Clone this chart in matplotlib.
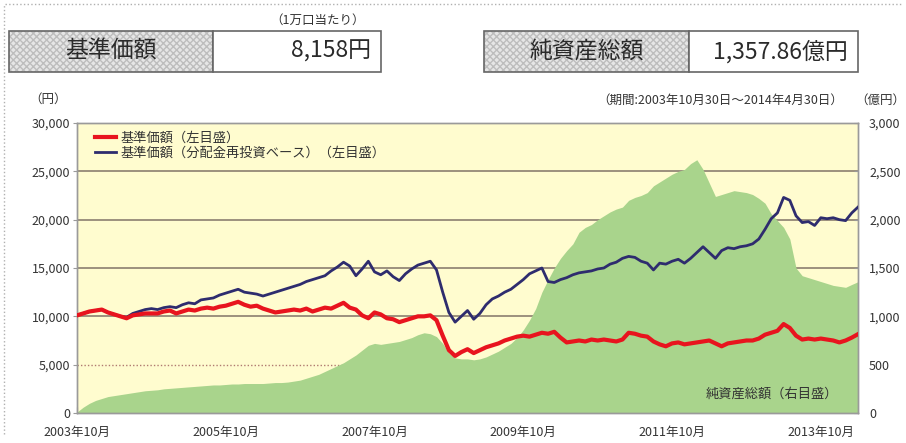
import numpy as np
import matplotlib
matplotlib.use('Agg')
import matplotlib.pyplot as plt
from matplotlib.patches import Rectangle
from matplotlib.lines import Line2D

plt.rcParams['font.family'] = ['Noto Sans CJK JP', 'DejaVu Sans']

# Monthly values from 2003年10月 to 2014年4月
# 基準価額 (円)
nav = [10100, 10300, 10500, 10600, 10700, 10400, 10200, 10000, 9800, 10100,
       10200, 10300, 10300, 10300, 10500, 10600, 10300, 10500, 10700, 10600,
       10800, 10900, 10800, 11000, 11100, 11300, 11500, 11200, 11000, 11100,
       10800, 10600, 10400, 10500, 10600, 10700, 10600, 10800, 10500, 10700,
       10900, 10800, 11100, 11400, 10900, 10700, 10100, 9800, 10400, 10200,
       9800, 9700, 9400, 9600, 9800, 10000, 10000, 10100, 9600, 8000,
       6500, 5900, 6300, 6600, 6200, 6500, 6800, 7000, 7200, 7500,
       7700, 7900, 8000, 7900, 8100, 8300, 8200, 8400, 7800, 7300,
       7400, 7500, 7400, 7600, 7500, 7600, 7500, 7400, 7600, 8300,
       8200, 8000, 7900, 7400, 7100, 6900, 7200, 7300, 7100, 7200,
       7300, 7400, 7500, 7200, 6900, 7200, 7300, 7400, 7500, 7500,
       7700, 8100, 8300, 8500, 9200, 8800, 8000, 7600, 7700, 7600,
       7700, 7600, 7500, 7300, 7500, 7800, 8158]

# 基準価額（分配金再投資ベース） (円)
nav_reinvested = [10100, 10300, 10500, 10600, 10700, 10400, 10200, 10000, 9900, 10300,
                  10500, 10700, 10800, 10700, 10900, 11000, 10900, 11200, 11400, 11300,
                  11700, 11800, 11900, 12200, 12400, 12600, 12800, 12500, 12400, 12300,
                  12100, 12300, 12500, 12700, 12900, 13100, 13300, 13600, 13800, 14000,
                  14200, 14700, 15100, 15600, 15200, 14200, 14900, 15700, 14600, 14300,
                  14700, 14100, 13700, 14400, 14900, 15300, 15500, 15700, 14800, 12500,
                  10400, 9400, 10000, 10600, 9700, 10300, 11200, 11800, 12100, 12500,
                  12800, 13300, 13800, 14400, 14700, 15000, 13600, 13500, 13800, 14000,
                  14300, 14500, 14600, 14700, 14900, 15000, 15400, 15600, 16000, 16200,
                  16100, 15700, 15500, 14800, 15500, 15400, 15700, 15900, 15500, 16000,
                  16600, 17200, 16600, 16000, 16800, 17100, 17000, 17200, 17300, 17500,
                  18000, 19000, 20100, 20700, 22300, 22000, 20400, 19700, 19800, 19400,
                  20200, 20100, 20200, 20000, 19900, 20700, 21300]

# 純資産総額 (億円)
net_assets = [10, 60, 100, 130, 150, 170, 180, 190, 200, 210,
              220, 230, 235, 240, 250, 255, 260, 265, 270, 275,
              280, 285, 290, 290, 295, 300, 300, 305, 305, 305,
              305, 310, 315, 315, 320, 330, 340, 360, 380, 400,
              430, 460, 490, 520, 560, 600, 650, 700, 720, 710,
              720, 730, 740, 760, 780, 810, 830, 820, 790, 720,
              620, 570, 560, 560, 550, 560, 580, 610, 640, 680,
              720, 780, 860, 960, 1080, 1250, 1380, 1500, 1600, 1680,
              1750, 1870, 1920, 1950, 2000, 2040, 2080, 2110, 2130, 2200,
              2230, 2250, 2280, 2350, 2390, 2430, 2470, 2500, 2520, 2580,
              2620, 2520, 2380, 2240, 2260, 2280, 2300, 2290, 2280, 2260,
              2220, 2170, 2060, 1990, 1920, 1800, 1500, 1420, 1400, 1380,
              1360, 1340, 1320, 1310, 1300, 1330, 1358]

x_labels = ['2003年10月', '2005年10月', '2007年10月', '2009年10月', '2011年10月', '2013年10月']
left_ticks = [0, 5000, 10000, 15000, 20000, 25000, 30000]
right_ticks = [0, 500, 1000, 1500, 2000, 2500, 3000]

bg_color = '#fffccf'
green = '#a9d48c'
red = '#e8141e'
navy = '#2e2c6e'
grid_color = '#8b7f70'
text_color = '#333333'

fig = plt.figure(figsize=(9.06, 4.43), dpi=100)

# Header boxes
def header_box(x0, x1, x2, label, value):
    y0, h = 1 - 72 / 443, 41 / 443
    fig.patches.append(Rectangle((x0 / 906, y0), (x1 - x0) / 906, h, transform=fig.transFigure,
                                 facecolor='#e6e6e6', edgecolor='#bdbdbd', hatch='xxxxx', lw=0))
    fig.patches.append(Rectangle((x0 / 906, y0), (x1 - x0) / 906, h, transform=fig.transFigure,
                                 facecolor='none', edgecolor='#666666', lw=1.2))
    fig.patches.append(Rectangle((x1 / 906, y0), (x2 - x1) / 906, h, transform=fig.transFigure,
                                 facecolor='white', edgecolor='#666666', lw=1.2))
    fig.text((x0 + x1) / 2 / 906, y0 + h / 2, label, ha='center', va='center',
             fontsize=16.5, color='#2a2a2a')
    fig.text((x2 - 10) / 906, y0 + h / 2, value, ha='right', va='center',
             fontsize=16.5, color='#2a2a2a')

header_box(9, 213, 381, '基準価額', '8,158円')
header_box(484, 689, 858, '純資産総額', '1,357.86億円')

fig.text(318 / 906, 1 - 20 / 443, '（1万口当たり）', ha='center', va='center', fontsize=9, color=text_color)
fig.text(48 / 906, 1 - 99 / 443, '（円）', ha='center', va='center', fontsize=9, color=text_color)
fig.text(843 / 906, 1 - 100 / 443, '（期間:2003年10月30日～2014年4月30日）', ha='right', va='center',
         fontsize=9, color=text_color)
fig.text(880 / 906, 1 - 100 / 443, '（億円）', ha='center', va='center', fontsize=9, color=text_color)

# dotted page edges
fig.add_artist(Line2D([0.005, 0.995], [0.992, 0.992], color='#b0b0b0', ls=':', lw=1))
fig.add_artist(Line2D([0.004, 0.004], [0.02, 0.992], color='#b0b0b0', ls=':', lw=1))

# Chart
ax_r = fig.add_axes([77 / 906, 30 / 443, 781 / 906, 290 / 443])
ax = ax_r.twinx()
ax.yaxis.tick_left()
ax.yaxis.set_label_position('left')
ax_r.yaxis.tick_right()
ax.set_zorder(ax_r.get_zorder() + 1)
ax.patch.set_visible(False)
ax_r.set_facecolor(bg_color)

months = np.arange(len(nav))

# horizontal rules (under the area)
for v in right_ticks[1:-1]:
    if v == 500:
        ax_r.axhline(v, color='#b07a70', lw=1.0, ls=(0, (1, 1.5)), zorder=1)
    else:
        ax_r.axhline(v, color=grid_color, lw=1.2, zorder=1)

ax_r.fill_between(months, 0, net_assets, color=green, lw=0, zorder=2)
ax_r.set_ylim(0, 3000)
ax_r.set_yticks(right_ticks)
ax_r.set_yticklabels([f'{v:,}' for v in right_ticks])

ax.plot(months, nav_reinvested, color=navy, lw=2.0, label='基準価額（分配金再投資ベース）（左目盛）', zorder=3)
ax.plot(months, nav, color=red, lw=3.0, label='基準価額（左目盛）', zorder=4)
ax.set_ylim(0, 30000)
ax.set_yticks(left_ticks)
ax.set_yticklabels([f'{v:,}' for v in left_ticks])
ax.set_xlim(0, len(nav) - 1)
ax_r.set_xlim(0, len(nav) - 1)
ax_r.set_xticks(months[::24])
ax_r.set_xticklabels(x_labels)

handles, labels = ax.get_legend_handles_labels()
leg = ax.legend(handles[::-1], labels[::-1], loc='upper left', bbox_to_anchor=(0.018, 0.985),
                frameon=True, facecolor=bg_color, edgecolor='none', framealpha=1,
                fontsize=9.5, handlelength=1.6, handletextpad=0.3, labelspacing=0.15,
                borderpad=0.3, borderaxespad=0)
for t in leg.get_texts():
    t.set_color(text_color)

ax.text(0.975, 0.065, '純資産総額（右目盛）', transform=ax.transAxes, ha='right', va='center',
        fontsize=9.5, color=text_color)

for a in (ax, ax_r):
    for s in a.spines.values():
        s.set_color('#9a9a9a')
        s.set_linewidth(1.0)
ax.tick_params(axis='y', direction='out', length=3, labelsize=9, colors='#9a9a9a', labelcolor=text_color, pad=2)
ax_r.tick_params(axis='y', direction='in', length=3, labelsize=9, colors='#9a9a9a', labelcolor=text_color, pad=8)
ax_r.tick_params(axis='x', direction='in', length=4, labelsize=9, colors='#777777', labelcolor=text_color, pad=9)

fig.savefig('out.png', dpi=100)
